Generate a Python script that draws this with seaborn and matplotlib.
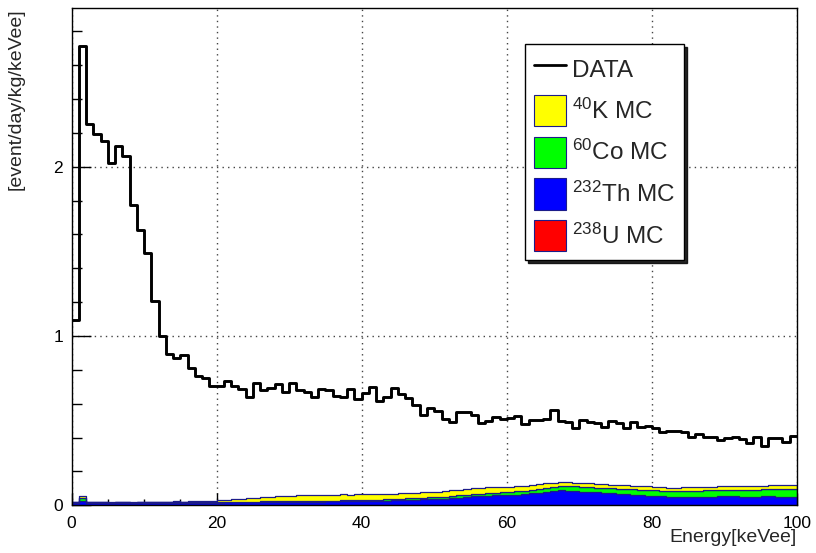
import numpy as np
import pandas as pd
import matplotlib
matplotlib.use("Agg")
import matplotlib.pyplot as plt
import seaborn as sns
from matplotlib.patches import Patch
from matplotlib.lines import Line2D
from matplotlib.ticker import MultipleLocator

# ---------------- data (1 keVee bins, 0-100 keVee) ----------------
bin_width = 1.0
energy_range = (0, 100)

data_rate = [
    1.094, 2.715, 2.250, 2.193, 2.154, 2.024, 2.122, 2.063, 1.776, 1.626,
    1.488, 1.207, 1.002, 0.894, 0.868, 0.888, 0.809, 0.766, 0.754, 0.705,
    0.705, 0.734, 0.707, 0.685, 0.641, 0.724, 0.681, 0.695, 0.715, 0.667,
    0.720, 0.681, 0.671, 0.641, 0.685, 0.681, 0.646, 0.641, 0.685, 0.626,
    0.665, 0.697, 0.616, 0.641, 0.691, 0.656, 0.632, 0.592, 0.533, 0.573,
    0.557, 0.508, 0.494, 0.549, 0.553, 0.533, 0.484, 0.498, 0.523, 0.510,
    0.518, 0.527, 0.478, 0.504, 0.504, 0.512, 0.563, 0.500, 0.494, 0.455,
    0.504, 0.494, 0.484, 0.461, 0.500, 0.488, 0.458, 0.494, 0.461, 0.468,
    0.455, 0.435, 0.441, 0.441, 0.435, 0.405, 0.421, 0.402, 0.402, 0.386,
    0.396, 0.402, 0.390, 0.370, 0.402, 0.350, 0.396, 0.396, 0.376, 0.409,
]

u238_mc = [0.002] * 100

th232_mc = [
    0.012, 0.022, 0.013, 0.012, 0.012, 0.011, 0.012, 0.012, 0.011, 0.012,
    0.012, 0.012, 0.012, 0.013, 0.013, 0.012, 0.013, 0.013, 0.013, 0.014,
    0.014, 0.015, 0.015, 0.015, 0.016, 0.016, 0.017, 0.017, 0.017, 0.018,
    0.018, 0.019, 0.019, 0.020, 0.020, 0.021, 0.021, 0.022, 0.022, 0.023,
    0.023, 0.024, 0.025, 0.026, 0.027, 0.029, 0.030, 0.032, 0.034, 0.036,
    0.036, 0.038, 0.041, 0.044, 0.047, 0.050, 0.053, 0.055, 0.057, 0.058,
    0.059, 0.061, 0.064, 0.068, 0.072, 0.076, 0.082, 0.086, 0.084, 0.082,
    0.079, 0.077, 0.074, 0.071, 0.068, 0.065, 0.062, 0.060, 0.057, 0.055,
    0.052, 0.050, 0.048, 0.047, 0.046, 0.046, 0.047, 0.048, 0.049, 0.050,
    0.050, 0.050, 0.049, 0.049, 0.049, 0.050, 0.050, 0.049, 0.049, 0.049,
]

co60_mc = [
    0.003, 0.018, 0.003, 0.003, 0.003, 0.003, 0.003, 0.003, 0.003, 0.003,
    0.003, 0.003, 0.003, 0.003, 0.003, 0.003, 0.003, 0.003, 0.003, 0.003,
    0.003, 0.003, 0.003, 0.003, 0.004, 0.004, 0.004, 0.004, 0.004, 0.004,
    0.004, 0.004, 0.004, 0.005, 0.005, 0.005, 0.005, 0.005, 0.005, 0.006,
    0.006, 0.006, 0.007, 0.007, 0.008, 0.008, 0.009, 0.009, 0.010, 0.010,
    0.011, 0.011, 0.012, 0.012, 0.013, 0.013, 0.014, 0.015, 0.016, 0.017,
    0.018, 0.019, 0.020, 0.021, 0.023, 0.024, 0.026, 0.027, 0.027, 0.028,
    0.028, 0.029, 0.029, 0.030, 0.030, 0.031, 0.031, 0.032, 0.032, 0.033,
    0.034, 0.034, 0.035, 0.035, 0.036, 0.036, 0.037, 0.038, 0.038, 0.039,
    0.040, 0.040, 0.041, 0.041, 0.042, 0.042, 0.043, 0.043, 0.044, 0.045,
]

k40_mc = [
    0.003, 0.015, 0.004, 0.003, 0.003, 0.004, 0.003, 0.004, 0.003, 0.004,
    0.004, 0.004, 0.005, 0.004, 0.005, 0.005, 0.006, 0.006, 0.007, 0.008,
    0.011, 0.013, 0.015, 0.017, 0.020, 0.023, 0.025, 0.027, 0.029, 0.031,
    0.033, 0.034, 0.035, 0.035, 0.036, 0.035, 0.035, 0.035, 0.034, 0.034,
    0.034, 0.034, 0.033, 0.033, 0.032, 0.031, 0.031, 0.031, 0.031, 0.031,
    0.031, 0.032, 0.033, 0.034, 0.035, 0.035, 0.034, 0.034, 0.033, 0.032,
    0.031, 0.031, 0.030, 0.029, 0.029, 0.028, 0.024, 0.021, 0.022, 0.021,
    0.021, 0.022, 0.022, 0.022, 0.021, 0.022, 0.022, 0.021, 0.022, 0.022,
    0.022, 0.021, 0.020, 0.021, 0.022, 0.023, 0.022, 0.021, 0.021, 0.021,
    0.020, 0.021, 0.022, 0.021, 0.021, 0.022, 0.023, 0.023, 0.024, 0.024,
]

source_labels = [r"$^{40}$K MC", r"$^{60}$Co MC", r"$^{232}$Th MC", r"$^{238}$U MC"]
source_colors = ["#ffff00", "#00ff00", "#0000ff", "#ff0000"]
data_label = "DATA"
x_title = "Energy[keVee]"
y_title = "[event/day/kg/keVee]"

# ---------------- styling ----------------
sns.set_style("white")
plt.rcParams["font.family"] = ["Liberation Sans", "DejaVu Sans"]
plt.rcParams["mathtext.fontset"] = "custom"
plt.rcParams["mathtext.rm"] = "Liberation Sans"
plt.rcParams["mathtext.it"] = "Liberation Sans:italic"
plt.rcParams["mathtext.bf"] = "Liberation Sans:bold"

n_bins = len(data_rate)
centers = energy_range[0] + bin_width * (np.arange(n_bins) + 0.5)

mc_df = pd.concat([
    pd.DataFrame({"energy": centers, "rate": vals, "source": lab})
    for vals, lab in zip([k40_mc, co60_mc, th232_mc, u238_mc], source_labels)
], ignore_index=True)
data_df = pd.DataFrame({"energy": centers, "rate": data_rate})

W, H = 816, 553
fig = plt.figure(figsize=(W / 100, H / 100), dpi=100)
left, right, top, bottom = 71.5, 797.0, 8.0, 505.3
ax = fig.add_axes([left / W, (H - bottom) / H, (right - left) / W, (bottom - top) / H])

# stacked MC (last hue level ends up at the bottom of the stack)
sns.histplot(
    data=mc_df, x="energy", weights="rate", hue="source",
    hue_order=source_labels, palette=dict(zip(source_labels, source_colors)),
    multiple="stack", element="step", binwidth=bin_width, binrange=energy_range,
    alpha=1.0, edgecolor="#1c1c8a", linewidth=0.9, legend=False, ax=ax,
)

# data histogram
sns.histplot(
    data=data_df, x="energy", weights="rate", binwidth=bin_width,
    binrange=energy_range, element="step", fill=False,
    color="black", linewidth=2.1, ax=ax,
)

ax.set_xlim(0, 100)
ax.set_ylim(0, (bottom - top) / 169.3)

ax.xaxis.set_major_locator(MultipleLocator(20))
ax.xaxis.set_minor_locator(MultipleLocator(5))
ax.yaxis.set_major_locator(MultipleLocator(1))
ax.yaxis.set_minor_locator(MultipleLocator(0.2))

ax.tick_params(axis="both", which="both", direction="in", width=1,
               colors="black", bottom=True, left=True, top=False, right=False)
ax.tick_params(axis="y", which="major", length=14, labelsize=12.5, pad=6)
ax.tick_params(axis="y", which="minor", length=7)
ax.tick_params(axis="x", which="major", length=9, labelsize=12.5, pad=8)
ax.tick_params(axis="x", which="minor", length=4.5)

ax.grid(True, which="major", linestyle=(0, (1, 3)), color="#444444", linewidth=1.0)
ax.set_axisbelow(True)
for sp in ax.spines.values():
    sp.set_color("black")
    sp.set_linewidth(1.0)

ax.set_xlabel("")
ax.set_ylabel("")
fig.text(right / W, 1 - 537 / H, x_title, ha="right", va="center", fontsize=14)
fig.text(16 / W, 1 - top / H, y_title, ha="center", va="top", rotation=90, fontsize=14)

handles = [Line2D([0], [0], color="black", linewidth=2.0)] + [
    Patch(facecolor=c, edgecolor="#1c1c8a", linewidth=0.8) for c in source_colors
]
labels = [data_label] + source_labels
leg = ax.legend(
    handles, labels, loc="upper left",
    bbox_to_anchor=(525 / W, 1 - 44 / H), bbox_transform=fig.transFigure,
    fontsize=17.5, frameon=True, fancybox=False, borderaxespad=0,
    handlelength=1.3, handleheight=1.6, handletextpad=0.25,
    labelspacing=0.43, borderpad=0.38,
    shadow={"color": "black", "alpha": 0.85},
)
leg.get_frame().set_edgecolor("black")
leg.get_frame().set_linewidth(1.0)
leg.get_frame().set_facecolor("white")
leg.get_frame().set_alpha(1.0)

fig.savefig("out.png", dpi=100)
